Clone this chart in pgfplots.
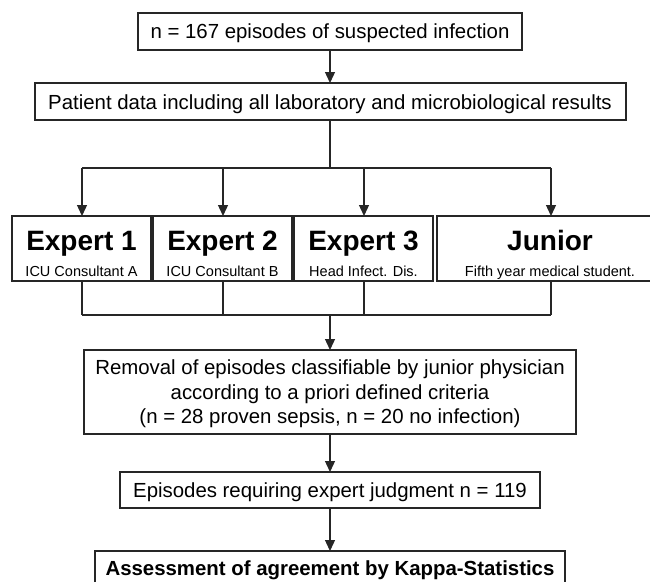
\documentclass[border=0pt]{standalone}
\usepackage{pgfplots}
\pgfplotsset{compat=1.18}
\usetikzlibrary{arrows.meta}
\usepackage{fontspec}
\setmainfont{Liberation Sans}
\begin{document}
\begin{tikzpicture}[
  box/.style={draw=black!85, line width=1.3pt},
  ln/.style={draw=black!85, line width=1.3pt},
  arr/.style={draw=black!85, line width=1.3pt, -{Triangle[width=10pt,length=11pt]}},
  txt/.style={inner sep=0pt, anchor=base, font=\fontsize{20.4pt}{24.5pt}\selectfont},
  big/.style={inner sep=0pt, anchor=base, font=\fontsize{28pt}{32pt}\selectfont\bfseries},
  small/.style={inner sep=0pt, anchor=base, font=\fontsize{14.5pt}{17pt}\selectfont},
]
\begin{axis}[width=650pt,height=582pt,scale only axis,
  xmin=0,xmax=650,ymin=0,ymax=582,y dir=reverse,hide axis,clip=false]
% top box
\draw[box] (axis cs:138,13) rectangle (axis cs:522,50);
\node[txt] at (axis cs:330,38.8) {n = 167 episodes of suspected infection};
\draw[arr] (axis cs:330,50) -- (axis cs:330,83);
% patient data box
\draw[box] (axis cs:35,83) rectangle (axis cs:626,120);
\node[txt] at (axis cs:330,109) {Patient data including all laboratory and microbiological results};
% split
\draw[ln] (axis cs:330,120) -- (axis cs:330,168);
\draw[ln] (axis cs:82,168) -- (axis cs:551,168);
\draw[arr] (axis cs:82,168) -- (axis cs:82,216);
\draw[arr] (axis cs:223,168) -- (axis cs:223,216);
\draw[arr] (axis cs:364,168) -- (axis cs:364,216);
\draw[arr] (axis cs:551,168) -- (axis cs:551,216);
% expert boxes
\draw[box] (axis cs:12,216) rectangle (axis cs:151,281);
\draw[box] (axis cs:153,216) rectangle (axis cs:292,281);
\draw[box] (axis cs:294,216) rectangle (axis cs:433,281);
\draw[box] (axis cs:650,216) -- (axis cs:437,216) -- (axis cs:437,281) -- (axis cs:650,281);
\node[big] at (axis cs:81.5,250) {Expert 1};
\node[big] at (axis cs:222.5,250) {Expert 2};
\node[big] at (axis cs:363.5,250) {Expert 3};
\node[big] at (axis cs:550,250) {Junior};
\node[small] at (axis cs:81.5,276) {ICU Consultant A};
\node[small] at (axis cs:222.5,276) {ICU Consultant B};
\node[small] at (axis cs:363.5,276) {Head Infect. Dis.};
\node[small] at (axis cs:550,276) {Fifth year medical student.};
% merge
\draw[ln] (axis cs:82,281) -- (axis cs:82,315);
\draw[ln] (axis cs:223,281) -- (axis cs:223,315);
\draw[ln] (axis cs:364,281) -- (axis cs:364,315);
\draw[ln] (axis cs:551,281) -- (axis cs:551,315);
\draw[ln] (axis cs:82,315) -- (axis cs:551,315);
\draw[arr] (axis cs:330,315) -- (axis cs:330,350);
% removal box
\draw[box] (axis cs:84,350) rectangle (axis cs:576,434);
\node[txt] at (axis cs:330,374.5) {Removal of episodes classifiable by junior physician};
\node[txt] at (axis cs:330,399) {according to a priori defined criteria};
\node[txt] at (axis cs:330,423.5) {(n = 28 proven sepsis, n = 20 no infection)};
\draw[arr] (axis cs:330,434) -- (axis cs:330,472);
% expert judgment box
\draw[box] (axis cs:120,472) rectangle (axis cs:540,508);
\node[txt] at (axis cs:330,497.5) {Episodes requiring expert judgment n = 119};
\draw[arr] (axis cs:330,508) -- (axis cs:330,551);
% assessment box (cut at bottom)
\draw[box] (axis cs:95,582) -- (axis cs:95,551) -- (axis cs:565,551) -- (axis cs:565,582);
\node[txt, font=\fontsize{20.4pt}{24.5pt}\selectfont\bfseries] at (axis cs:330,575) {Assessment of agreement by Kappa-Statistics};
\end{axis}
\pgfresetboundingbox
\path (current axis.south west) rectangle (current axis.north east);
\end{tikzpicture}
\end{document}
